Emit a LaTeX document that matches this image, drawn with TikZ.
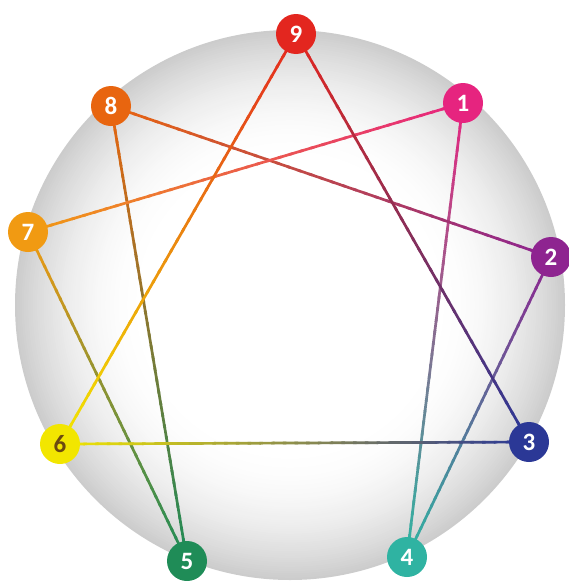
\documentclass[tikz,border=0pt]{standalone}
\usepackage{fontspec}
\setmainfont{Carlito}
\usetikzlibrary{calc}
\definecolor{c9}{HTML}{E3261F}
\definecolor{c1}{HTML}{E6247F}
\definecolor{c2}{HTML}{8E2490}
\definecolor{c3}{HTML}{2B3896}
\definecolor{c4}{HTML}{2FB3A2}
\definecolor{c5}{HTML}{1F8C57}
\definecolor{c6}{HTML}{F2E600}
\definecolor{c7}{HTML}{F19A12}
\definecolor{c8}{HTML}{E8650F}
\definecolor{sixtext}{HTML}{6B4A10}
\tikzset{
  enode/.style={circle, fill=#1, text=white, inner sep=0pt,
    minimum size=40pt,
    font=\bfseries\fontsize{25}{25}\selectfont},
  conn/.style={line width=2.7pt}
}
\newcommand\gline[4]{%
  \foreach \i in {0,...,39}{%
    \pgfmathsetmacro\ta{\i/40}%
    \pgfmathsetmacro\tb{min(1,(\i+1.3)/40)}%
    \pgfmathtruncatemacro\pc{100-\i*100/39}%
    \draw[conn, draw=#3!\pc!#4] ($(#1)!\ta!(#2)$) -- ($(#1)!\tb!(#2)$);
  }}
\begin{document}
\begin{tikzpicture}[x=1pt,y=-1pt]
\useasboundingbox (0,0) rectangle (568,581);
\foreach \k in {0,...,60}{%
  \pgfmathsetmacro\rr{275-\k*2.2}%
  \pgfmathsetmacro\gg{20*((\rr-143)/132)^2}%
  \fill[black!\gg] (290,305) circle (\rr);
}
\coordinate (p9) at (296,34);
\coordinate (p1) at (463,103);
\coordinate (p2) at (551,257);
\coordinate (p3) at (529,442);
\coordinate (p4) at (407,557);
\coordinate (p5) at (187,561);
\coordinate (p6) at (60,444);
\coordinate (p7) at (28,232);
\coordinate (p8) at (111,106);
\gline{p1}{p4}{c1}{c4}
\gline{p2}{p4}{c2}{c4}
\gline{p8}{p2}{c8}{c2}
\gline{p8}{p5}{c8}{c5}
\gline{p7}{p5}{c7}{c5}
\gline{p7}{p1}{c7}{c1}
\gline{p6}{p3}{c6}{c3}
\gline{p9}{p6}{c9}{c6}
\gline{p9}{p3}{c9}{c3}
\node[enode=c9] (n9) at (p9) {9};
\node[enode=c1] (n1) at (p1) {1};
\node[enode=c2] (n2) at (p2) {2};
\node[enode=c3] (n3) at (p3) {3};
\node[enode=c4] (n4) at (p4) {4};
\node[enode=c5] (n5) at (p5) {5};
\node[enode=c6, text=sixtext] (n6) at (p6) {6};
\node[enode=c7] (n7) at (p7) {7};
\node[enode=c8] (n8) at (p8) {8};
\end{tikzpicture}
\end{document}
